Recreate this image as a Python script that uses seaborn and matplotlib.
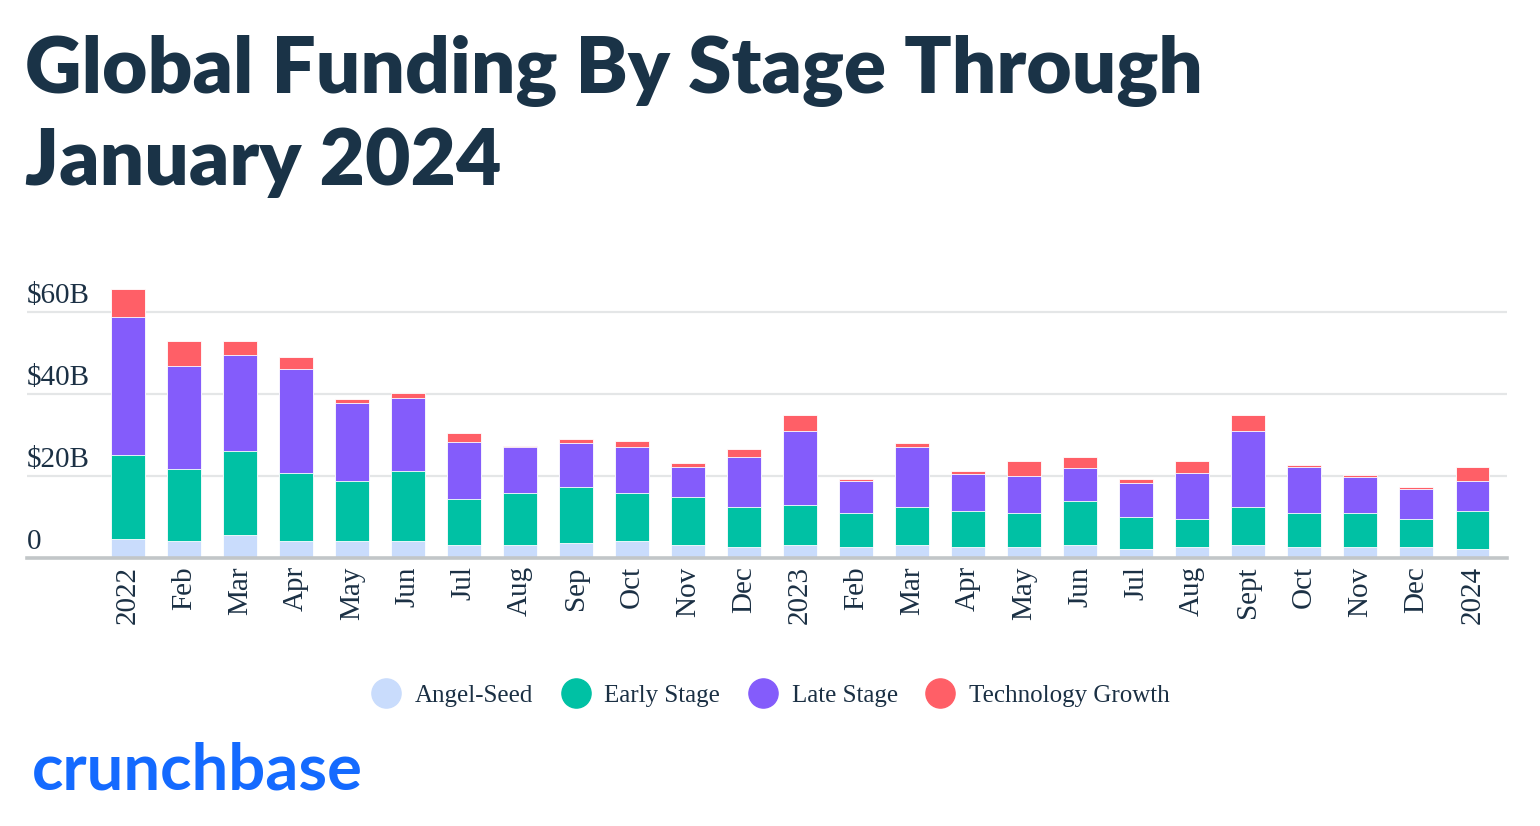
import matplotlib
matplotlib.use("Agg")
import matplotlib.pyplot as plt
import matplotlib.transforms as mtransforms
from matplotlib.lines import Line2D
import seaborn as sns
import numpy as np

# data, $B per month
months = ["2022", "Feb", "Mar", "Apr", "May", "Jun", "Jul", "Aug", "Sep", "Oct", "Nov", "Dec",
          "2023", "Feb", "Mar", "Apr", "May", "Jun", "Jul", "Aug", "Sept", "Oct", "Nov", "Dec",
          "2024"]
angel_seed = [4.6, 4.1, 5.6, 4.1, 4.1, 4.1, 3.1, 3.2, 3.7, 4.1, 3.2, 2.7,
              3.2, 2.7, 3.2, 2.7, 2.7, 3.2, 2.2, 2.7, 3.2, 2.7, 2.7, 2.7, 2.2]
early_stage = [20.5, 17.5, 20.5, 16.6, 14.6, 17.0, 11.2, 12.6, 13.5, 11.7, 11.7, 9.7,
               9.7, 8.2, 9.2, 8.7, 8.2, 10.6, 7.7, 6.7, 9.2, 8.2, 8.2, 6.7, 9.2]
late_stage = [33.7, 25.3, 23.3, 25.3, 19.0, 18.0, 14.1, 11.3, 10.8, 11.2, 7.2, 12.2,
              18.0, 7.8, 14.6, 9.2, 9.2, 8.2, 8.3, 11.3, 18.5, 11.2, 8.8, 7.4, 7.3]
tech_growth = [6.8, 6.0, 3.5, 3.0, 1.1, 1.1, 2.0, 0.2, 1.0, 1.5, 1.1, 2.0,
               4.1, 0.6, 1.0, 0.7, 3.6, 2.6, 1.1, 3.0, 4.1, 0.5, 0.5, 0.4, 3.5]
stages = ["Angel-Seed", "Early Stage", "Late Stage", "Technology Growth"]
colors = ["#c9dcfc", "#00c1a4", "#845cfb", "#ff5f67"]
y_ticks = [0, 20, 40, 60]
y_labels = ["0", "$20B", "$40B", "$60B"]

navy = "#1b3044"
serif = "Liberation Serif"

sns.set_style("white")
plt.rcParams["font.family"] = [serif, "DejaVu Serif"]

fig = plt.figure(figsize=(15.4, 8.26), dpi=100)
ax = fig.add_axes([0.0175, 0.3245, 0.9611, 0.3275])

layers = np.cumsum([angel_seed, early_stage, late_stage, tech_growth], axis=0)
x = list(range(len(months)))
# draw cumulative totals from the top layer down so each stage shows as a stacked segment
for cum, col in zip(layers[::-1], colors[::-1]):
    sns.barplot(x=x, y=cum, color=col, width=0.6, ax=ax,
                edgecolor="white", linewidth=0.6, saturation=1)

ax.set_ylim(0, 66)
ax.set_xlim(-1.8, 24.62)
ax.set_xticks(x)
ax.set_xticklabels(months, rotation=90, fontsize=21, color=navy, family=serif)
ax.tick_params(axis="x", length=0, pad=6)
ax.set_yticks([])
ax.set_xlabel("")
ax.set_ylabel("")

for t in y_ticks[1:]:
    ax.axhline(t, color="#e4e6e7", lw=1.6, zorder=0)

trans = mtransforms.blended_transform_factory(ax.transAxes, ax.transData)
for t, lab in zip(y_ticks, y_labels):
    ax.text(0.0, t + 0.8, lab, transform=trans, ha="left", va="bottom",
            fontsize=21, color=navy, family=serif)

for s in ["top", "right", "left"]:
    ax.spines[s].set_visible(False)
ax.spines["bottom"].set_color("#c2c6c8")
ax.spines["bottom"].set_linewidth(2.6)

title_kw = dict(ha="left", va="baseline", fontsize=56.3, fontweight="heavy",
                color="#1a3347", family="Lato")
fig.text(0.016, 0.888, "Global Funding By Stage Through", **title_kw)
fig.text(0.016, 0.776, "January 2024", **title_kw)

handles = [Line2D([0], [0], marker="o", color="none", markerfacecolor=c, markeredgecolor=c,
                  markersize=21) for c in colors]
fig.legend(handles, stages, loc="center", bbox_to_anchor=(0.499, 0.158), ncol=4, frameon=False,
           labelcolor=navy, handletextpad=0.4, columnspacing=0.95,
           prop={"family": serif, "size": 18}, handlelength=1.5)

fig.text(0.021, 0.044, "crunchbase", ha="left", va="baseline", fontsize=47,
         fontweight="bold", color="#146aff", family="Lato")

fig.savefig("out.png", dpi=100, facecolor="white")
